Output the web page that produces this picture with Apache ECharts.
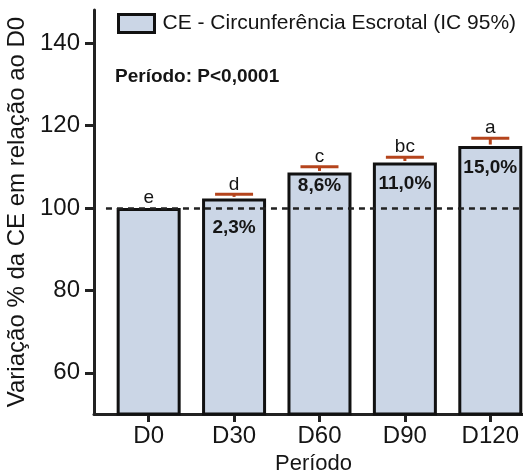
<!DOCTYPE html>
<html>
<head>
<meta charset="utf-8">
<script src="https://cdn.jsdelivr.net/npm/echarts@6/dist/echarts.min.js"></script>
<style>
html,body{margin:0;padding:0;background:#fff;}
#chart{width:523px;height:474px;}
</style>
</head>
<body>
<div id="chart"></div>
<script>
const categories = ['D0', 'D30', 'D60', 'D90', 'D120'];
const meanValues = [100, 102.3, 108.6, 111.0, 115.0];
const ciUpper = [100, 103.3, 110.0, 112.3, 116.9];
const pctLabels = ['', '2,3%', '8,6%', '11,0%', '15,0%'];
const groupLetters = ['e', 'd', 'c', 'bc', 'a'];
const yTickValues = [60, 80, 100, 120, 140];
const seriesName = 'CE - Circunferência Escrotal (IC 95%)';
const periodText = 'Período: P<0,0001';

// label style offsets (px below bar top), styling only
const pctLabelOffsets = [0, 29, 13, 21, 22];

const FONT = '"Liberation Sans", Arial, sans-serif';
const TXT = '#151515';

const xIdx = categories.map((c, i) => i);

const barData = meanValues.map((v, i) => ({
  value: [i, v],
  label: {
    show: pctLabels[i] !== '',
    position: ['50%', pctLabelOffsets[i]],
    formatter: pctLabels[i]
  }
}));

const errData = ciUpper.map((u, i) => [i, u, meanValues[i]]);

const chart = echarts.init(document.getElementById('chart'), null, {renderer: 'canvas'});

chart.setOption({
  animation: false,
  backgroundColor: '#ffffff',
  textStyle: {fontFamily: FONT},
  grid: {left: 94, right: -10, top: 10, bottom: 60, containLabel: false, outerBoundsMode: 'none'},
  legend: {
    data: [seriesName],
    icon: 'rect',
    left: 117,
    top: 13,
    itemWidth: 36,
    itemHeight: 18,
    itemGap: 10,
    padding: 0,
    textStyle: {fontSize: 21, color: TXT, fontFamily: FONT, padding: [0, 0, 0, 3]},
    itemStyle: {color: '#cbd6e6', borderColor: '#111', borderWidth: 3}
  },
  graphic: [{
    type: 'text',
    left: 115,
    top: 67,
    style: {text: periodText, font: 'bold 19px ' + FONT, fill: TXT}
  }],
  xAxis: {
    type: 'value',
    min: -0.64,
    max: 4.5,
    name: 'Período',
    nameLocation: 'middle',
    nameGap: 37,
    nameTextStyle: {fontSize: 22, color: TXT, fontFamily: FONT},
    splitLine: {show: false},
    axisLine: {show: true, onZero: false, lineStyle: {color: '#222', width: 3}},
    axisTick: {show: true, customValues: xIdx, length: 8, lineStyle: {color: '#222', width: 3}},
    axisLabel: {
      customValues: xIdx,
      formatter: v => categories[Math.round(v)],
      fontSize: 24,
      color: TXT,
      margin: 10,
      fontFamily: FONT
    }
  },
  yAxis: {
    type: 'value',
    min: 50,
    max: 148,
    name: 'Variação % da CE em relação ao D0',
    nameLocation: 'middle',
    nameGap: 54,
    nameTextStyle: {fontSize: 24, color: TXT, fontFamily: FONT},
    splitLine: {show: false},
    axisLine: {show: true, onZero: false, lineStyle: {color: '#222', width: 3}},
    axisTick: {show: true, customValues: yTickValues, length: 9, lineStyle: {color: '#222', width: 3}},
    axisLabel: {customValues: yTickValues, fontSize: 24, color: TXT, margin: 14, fontFamily: FONT}
  },
  series: [
    {
      name: seriesName,
      type: 'bar',
      barWidth: 64,
      data: barData,
      itemStyle: {color: '#cbd6e6', borderColor: '#111', borderWidth: 3},
      label: {
        align: 'center',
        verticalAlign: 'middle',
        fontSize: 19,
        fontWeight: 'bold',
        color: TXT,
        fontFamily: FONT
      },
      markLine: {
        silent: true,
        symbol: 'none',
        z: 5,
        label: {show: false},
        lineStyle: {color: '#222', width: 2.5, type: [6, 5]},
        data: [[{coord: [-0.5, 100]}, {coord: [4.5, 100]}]]
      }
    },
    {
      type: 'custom',
      z: 4,
      data: errData,
      renderItem: function (params, api) {
        const i = api.value(0);
        const up = api.value(1);
        const mean = api.value(2);
        const pTop = api.coord([i, mean]);
        const pUp = api.coord([i, up]);
        const children = [];
        const col = '#b5441c';
        if (up > mean) {
          children.push({
            type: 'line',
            shape: {x1: pTop[0], y1: pTop[1] - 1.5, x2: pUp[0], y2: pUp[1]},
            style: {stroke: col, lineWidth: 3}
          });
          children.push({
            type: 'line',
            shape: {x1: pUp[0] - 19, y1: pUp[1], x2: pUp[0] + 19, y2: pUp[1]},
            style: {stroke: col, lineWidth: 3}
          });
        }
        children.push({
          type: 'text',
          x: pUp[0],
          y: pUp[1] - 10,
          style: {
            text: groupLetters[params.dataIndex],
            font: '19px ' + FONT,
            fill: TXT,
            align: 'center',
            verticalAlign: 'middle'
          }
        });
        return {type: 'group', children: children};
      }
    }
  ]
});
</script>
</body>
</html>
